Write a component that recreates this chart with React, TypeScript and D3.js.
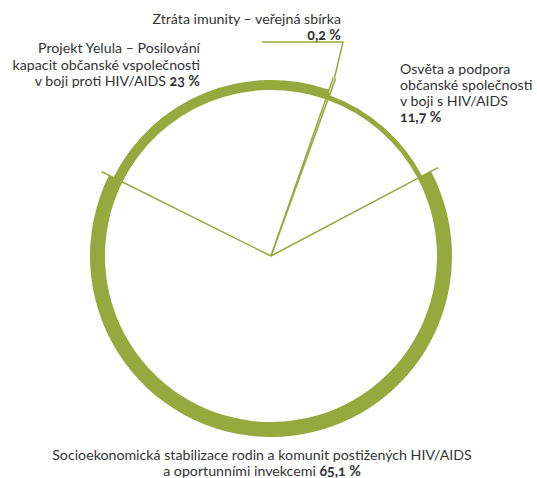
import React from "react";
import * as d3 from "d3";

const categories = [
  "Socioekonomická stabilizace rodin a komunit postižených HIV/AIDS a oportunními invekcemi",
  "Projekt Yelula – Posilování kapacit občanské vspolečnosti v boji proti HIV/AIDS",
  "Ztráta imunity – veřejná sbírka",
  "Osvěta a podpora občanské společnosti v boji s HIV/AIDS",
];
const values = [65.1, 23, 0.2, 11.7];
const valueLabels = ["65,1 %", "23 %", "0,2 %", "11,7 %"];

const ringWidths = [15, 10, 7, 5];
const GREEN = "#95a93e";
const TEXT = "#333333";
const W = 537, H = 478;
const cx = 271, cy = 256;
const innerR = 166;
const lineR = 189;
const start = (62.1 * Math.PI) / 180;

export default function App() {
  const pie = d3.pie<number>().sort(null).value((d) => d).startAngle(start).endAngle(start + 2 * Math.PI);
  const arcs = pie(values);
  const pt = (a: number, r: number) => [cx + r * Math.sin(a), cy - r * Math.cos(a)];
  const small = arcs[2];
  const mid = (small.startAngle + small.endAngle) / 2;
  const lp = pt(mid, lineR);
  const font = "Lato, 'Open Sans', sans-serif";
  const fs = 14.2;
  const bold = { fontWeight: 700, fontVariantNumeric: "oldstyle-nums" } as any;
  return (
    <svg width={W} height={H} style={{ position: "absolute", left: 0, top: 0 }}>
      <g>
        {arcs.map((a, i) => {
          const gen = d3.arc<any>().innerRadius(innerR).outerRadius(innerR + ringWidths[i]);
          return <path key={i} d={gen(a) || ""} transform={`translate(${cx},${cy})`} fill={GREEN} />;
        })}
        {arcs.map((a, i) => {
          const p = pt(a.startAngle, lineR);
          return <line key={"l" + i} x1={cx} y1={cy} x2={p[0]} y2={p[1]} stroke={GREEN} strokeWidth={1.5} />;
        })}
        <polyline points={`262,42 343,42 ${lp[0]},${lp[1]}`} fill="none" stroke={GREEN} strokeWidth={1.5} />
      </g>
      <g fontFamily={font} fontSize={fs} fill={TEXT}>
        <text x={341} y={24} textAnchor="end">Ztráta imunity – veřejná sbírka</text>
        <text x={341} y={39.5} textAnchor="end" style={bold}>{valueLabels[2]}</text>
        <text textAnchor="end">
          <tspan x={200} y={53}>Projekt Yelula – Posilování</tspan>
          <tspan x={200} y={69.5}>kapacit občanské vspolečnosti</tspan>
          <tspan x={200} y={86}>v boji proti HIV/AIDS <tspan style={bold}>{valueLabels[1]}</tspan></tspan>
        </text>
        <text>
          <tspan x={400} y={73.5}>Osvěta a podpora</tspan>
          <tspan x={400} y={89.5}>občanské společnosti</tspan>
          <tspan x={400} y={105.5}>v boji s HIV/AIDS</tspan>
        </text>
        <text x={400} y={122} style={bold}>{valueLabels[3]}</text>
        <text textAnchor="middle">
          <tspan x={262} y={460}>Socioekonomická stabilizace rodin a komunit postižených HIV/AIDS</tspan>
          <tspan x={262} y={476}>a oportunními invekcemi <tspan style={bold}>{valueLabels[0]}</tspan></tspan>
        </text>
      </g>
    </svg>
  );
}
